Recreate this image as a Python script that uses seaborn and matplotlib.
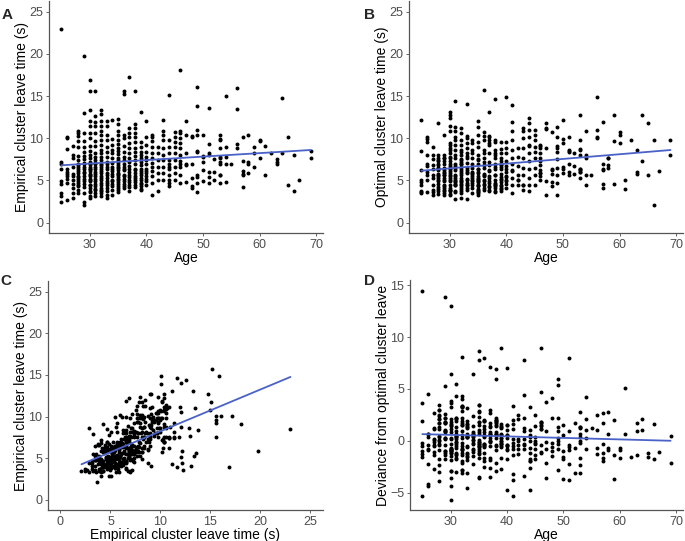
import numpy as np
import pandas as pd
import matplotlib
matplotlib.use("Agg")
import matplotlib.pyplot as plt
import seaborn as sns

age = [
    25, 25, 25, 25, 25, 25, 25, 25, 25,
    26, 26, 26, 26, 26, 26, 26, 26, 26, 26,
    27, 27, 27, 27, 27, 27, 27, 27, 27, 27, 27,
    28, 28, 28, 28, 28, 28, 28, 28, 28, 28, 28, 28, 28, 28, 28, 28, 28, 28, 28, 28, 28, 28,
    29, 29, 29, 29, 29, 29, 29, 29, 29, 29, 29, 29, 29, 29, 29, 29, 29, 29, 29, 29, 29, 29,
    30, 30, 30, 30, 30, 30, 30, 30, 30, 30, 30, 30, 30, 30, 30, 30, 30, 30, 30, 30, 30, 30, 30, 30, 30,
    30, 30, 30, 30, 30, 30,
    31, 31, 31, 31, 31, 31, 31, 31, 31, 31, 31, 31, 31, 31, 31, 31, 31, 31, 31, 31, 31, 31, 31, 31, 31,
    32, 32, 32, 32, 32, 32, 32, 32, 32, 32, 32, 32, 32, 32, 32, 32, 32, 32, 32, 32, 32, 32, 32,
    32, 32, 32, 32, 32,
    33, 33, 33, 33, 33, 33, 33, 33, 33, 33, 33, 33, 33, 33, 33, 33, 33, 33, 33, 33, 33,
    34, 34, 34, 34, 34, 34, 34, 34, 34, 34, 34, 34, 34, 34, 34, 34, 34, 34,
    35, 35, 35, 35, 35, 35, 35, 35, 35, 35, 35, 35, 35, 35, 35, 35, 35, 35, 35, 35, 35, 35, 35,
    35, 35, 35, 35, 35,
    36, 36, 36, 36, 36, 36, 36, 36, 36, 36, 36, 36, 36, 36, 36, 36, 36, 36, 36,
    37, 37, 37, 37, 37, 37, 37, 37, 37, 37, 37, 37, 37, 37, 37, 37, 37, 37, 37,
    38, 38, 38, 38, 38, 38, 38, 38, 38, 38, 38, 38, 38, 38, 38, 38, 38, 38, 38, 38,
    39, 39, 39, 39, 39, 39, 39, 39, 39, 39, 39, 39, 39, 39, 39, 39, 39, 39, 39,
    40, 40, 40, 40, 40, 40, 40, 40, 40, 40, 40, 40, 40, 40,
    41, 41, 41, 41, 41, 41, 41, 41, 41, 41, 41, 41,
    42, 42, 42, 42, 42, 42, 42,
    43, 43, 43, 43, 43, 43, 43, 43, 43, 43,
    44, 44, 44, 44, 44, 44, 44, 44, 44, 44, 44, 44,
    45, 45, 45, 45, 45, 45, 45, 45, 45,
    46, 46, 46, 46, 46, 46, 46, 46, 46, 46, 46, 46,
    47, 47, 47, 47, 47, 47,
    48, 48, 48, 48, 48, 48,
    49, 49, 49, 49, 49, 49, 49, 49, 49, 49,
    50, 50, 50, 50, 50, 50,
    51, 51, 51, 51, 51, 51, 51,
    52, 52, 52,
    53, 53, 53, 53, 53, 53, 53, 53, 53, 53, 53,
    54, 54, 54, 54, 54,
    55,
    56, 56, 56, 56,
    57, 57, 57, 57, 57, 57,
    58, 58, 58, 58,
    59, 59, 59,
    60, 60, 60,
    61, 61,
    62,
    63, 63, 63,
    64, 64,
    65, 65,
    66, 66,
    67,
    69, 69,
]

empirical = [
    23.0, 7.2, 6.9, 6.4, 4.9, 4.6, 3.5, 3.2, 2.5,
    10.2, 10.0, 8.7, 6.3, 5.8, 5.2, 4.7, 2.7, 6.0, 5.5,
    9.1, 8.0, 7.7, 5.8, 5.5, 5.1, 4.6, 4.1, 3.5, 2.9, 6.6,
    10.9, 10.6, 10.3, 9.7, 9.0, 7.9, 7.4, 6.9, 6.6, 6.3, 5.9, 5.5, 5.2, 4.7, 4.3, 3.9, 3.5,
    6.1, 5.4, 4.9, 4.5, 6.8,
    19.8, 13.0, 10.6, 9.7, 9.0, 7.9, 7.5, 7.1, 6.6, 5.9, 5.5, 4.9, 3.5, 2.5, 2.1, 6.3, 8.4,
    6.0, 5.2, 4.6, 4.2, 6.9,
    16.9, 15.6, 13.3, 12.1, 11.4, 10.6, 10.0, 9.1, 8.5, 8.0, 7.6, 7.2, 6.9, 6.6, 6.3, 6.1, 5.8, 5.5, 5.2, 4.9, 4.5, 4.1, 3.8, 3.2, 2.9,
    6.4, 5.6, 5.0, 4.4, 3.6, 7.0,
    15.6, 12.6, 11.9, 11.4, 10.6, 9.7, 9.1, 8.3, 7.8, 7.4, 6.9, 6.6, 6.3, 5.8, 5.5, 4.9, 4.3, 3.9, 3.5, 3.2,
    6.0, 5.2, 4.6, 7.1, 4.0,
    13.4, 12.9, 12.1, 11.4, 10.9, 10.4, 9.8, 9.2, 8.6, 8.2, 7.8, 7.4, 7.0, 6.6, 6.3, 5.9, 5.5, 5.1, 4.7, 4.1, 3.8, 3.5, 3.2,
    6.1, 5.3, 4.4, 6.8, 3.9,
    12.1, 11.4, 10.4, 9.8, 9.0, 8.4, 7.8, 7.2, 6.6, 6.3, 5.9, 5.3, 4.7, 4.1, 3.8, 3.3, 2.9,
    5.6, 4.9, 4.4, 6.9,
    12.2, 9.9, 9.2, 8.6, 8.2, 7.7, 7.1, 6.6, 6.1, 5.5, 4.9, 4.3, 3.9, 3.3,
    5.8, 5.1, 4.6, 6.4,
    12.3, 11.7, 10.9, 10.4, 9.8, 9.3, 8.9, 8.5, 8.1, 7.7, 7.4, 7.1, 6.8, 6.5, 6.2, 5.9, 5.6, 5.2, 5.0, 4.6, 4.3, 3.9, 3.6,
    5.4, 4.8, 4.1, 6.6, 5.8,
    15.6, 15.2, 10.4, 10.0, 9.1, 8.4, 7.8, 7.4, 6.9, 6.6, 6.2, 5.7, 5.2, 4.6, 4.1,
    5.5, 4.9, 4.3, 6.4,
    17.2, 11.2, 10.6, 10.2, 9.4, 8.8, 8.2, 7.7, 7.2, 6.7, 6.3, 5.7, 5.1, 4.5, 3.8,
    5.4, 4.8, 6.0, 4.2,
    15.6, 11.7, 11.2, 10.6, 10.1, 9.5, 8.9, 8.4, 7.9, 7.4, 6.9, 6.4, 5.9, 5.5, 5.0, 4.5,
    5.3, 4.8, 6.2, 4.2,
    13.1, 9.6, 9.0, 8.4, 8.0, 7.6, 7.2, 6.8, 6.4, 6.1, 5.7, 5.3, 4.7, 4.3, 3.9,
    5.1, 4.6, 5.9, 4.0,
    12.1, 10.1, 9.2, 8.4, 7.8, 7.4, 6.9, 6.4, 5.9, 5.5, 4.9,
    5.2, 4.4, 6.1,
    10.4, 10.1, 9.7, 9.0, 8.2, 7.6, 7.1, 6.6, 6.1, 5.5, 4.7, 3.3,
    9.0, 8.2, 7.4, 6.6, 5.9, 5.1, 3.7,
    12.2, 10.9, 10.4, 9.8, 8.8, 8.0, 7.4, 6.6, 5.9, 5.1,
    15.1, 9.8, 9.0, 8.2, 7.4, 7.0, 6.6, 6.3, 5.7, 5.1, 4.7, 4.3,
    10.7, 10.2, 9.6, 9.0, 8.2, 7.4, 6.6, 5.9, 5.1,
    18.1, 10.9, 10.6, 10.0, 9.4, 8.8, 8.0, 7.0, 6.6, 5.7, 4.7, 7.3,
    12.0, 10.4, 8.2, 7.0, 6.8, 4.8,
    10.3, 10.1, 7.0, 5.3, 4.3, 4.1,
    16.1, 13.8, 11.0, 10.4, 8.5, 8.4, 5.7, 5.4, 4.7, 3.6,
    10.4, 7.9, 7.8, 7.2, 6.2, 4.9,
    13.6, 9.3, 8.2, 8.0, 6.0, 5.4, 4.7,
    7.5, 6.0, 5.1,
    10.4, 9.9, 9.8, 8.8, 7.8, 7.7, 7.2, 6.9, 5.7, 5.6, 4.7,
    15.0, 9.0, 7.8, 6.9, 4.8,
    6.9,
    15.9, 13.5, 9.3, 8.8,
    10.2, 7.3, 6.1, 5.8, 5.7, 4.2,
    10.4, 7.2, 7.0, 5.9,
    9.0, 8.3, 6.6,
    9.8, 9.7, 7.7,
    9.1, 5.7,
    8.2,
    7.5, 7.2, 6.9,
    14.8, 8.3,
    10.2, 4.5,
    8.0, 3.7,
    5.0,
    8.5, 7.7,
]

optimal = [
    8.5, 3.6, 12.2, 4.5, 5.1, 6.2, 4.8, 3.7, 3.5,
    5.7, 9.6, 8.0, 6.7, 5.1, 6.0, 6.9, 3.6, 10.2, 9.9,
    9.0, 5.3, 7.5, 6.3, 4.4, 3.9, 5.7, 6.8, 3.6, 3.3, 8.0,
    7.4, 7.6, 7.3, 8.0, 6.5, 11.8, 5.0, 5.8, 6.2, 4.2, 6.8, 3.8, 5.6, 7.0, 4.6, 3.4, 6.5,
    4.0, 5.3, 4.9, 6.3, 5.5,
    5.9, 7.7, 10.4, 8.0, 7.3, 6.9, 5.7, 4.9, 7.6, 3.3, 6.5, 4.1, 5.3, 3.7, 3.5, 4.5, 6.2,
    5.1, 5.6, 4.3, 3.9, 6.0,
    3.9, 9.2, 13.1, 8.8, 7.6, 11.4, 10.8, 12.7, 9.4, 12.4, 6.1, 8.2, 5.3, 6.9, 4.5, 7.3, 3.7, 6.5, 4.9, 7.8, 5.7, 3.3, 6.7, 4.1, 8.6,
    5.0, 6.3, 3.9, 5.9, 5.5, 3.4,
    10.1, 14.4, 7.6, 9.2, 10.9, 9.8, 8.6, 11.3, 6.5, 5.5, 7.0, 4.4, 8.0, 4.9, 6.2, 2.8, 5.7, 3.7, 4.8, 4.4,
    5.3, 4.6, 5.1, 6.7, 3.6,
    5.3, 8.6, 10.6, 7.4, 7.5, 7.0, 9.2, 11.2, 6.9, 4.9, 8.0, 5.9, 9.8, 3.7, 8.4, 5.0, 6.3, 2.9, 4.4, 7.2, 6.6, 4.0, 4.6,
    4.2, 6.1, 5.6, 3.5, 4.8,
    14.0, 8.2, 8.8, 9.4, 7.6, 10.0, 5.9, 10.3, 7.1, 4.7, 6.5, 4.1, 6.0, 2.8, 5.0, 7.9, 4.4,
    5.2, 4.5, 3.9, 6.2,
    5.8, 9.8, 9.4, 8.2, 7.6, 5.3, 8.6, 6.5, 7.0, 4.1, 6.0, 3.5, 4.7, 5.5,
    5.1, 4.4, 4.9, 5.9,
    3.6, 3.9, 7.4, 6.9, 10.4, 9.6, 9.0, 12.0, 8.0, 11.3, 4.5, 6.4, 5.0, 7.5, 4.4, 6.0, 3.3, 5.5, 4.0, 6.3, 3.5, 5.2, 4.8,
    5.9, 5.3, 4.9, 3.8, 4.3,
    7.6, 15.7, 10.7, 8.6, 10.3, 6.5, 9.8, 5.5, 7.2, 4.6, 6.8, 8.2, 4.1, 5.0, 5.8,
    4.9, 4.4, 3.9, 5.6,
    10.1, 13.1, 9.8, 7.2, 9.4, 6.1, 8.2, 10.3, 5.5, 6.8, 4.9, 9.2, 3.8, 6.2, 4.3,
    4.7, 4.2, 5.3, 3.9,
    9.6, 14.6, 4.3, 8.6, 9.8, 8.0, 6.9, 7.6, 5.7, 8.3, 5.1, 4.5, 6.3, 3.8, 3.6, 6.6,
    4.6, 4.1, 5.6, 4.7,
    4.1, 9.6, 7.7, 8.7, 6.8, 8.2, 5.8, 7.3, 4.8, 6.3, 5.4, 7.0, 5.0, 4.3, 6.6,
    4.5, 4.0, 5.2, 3.7,
    5.1, 14.9, 9.6, 8.8, 6.3, 8.2, 5.4, 7.3, 4.9, 6.0, 6.7,
    4.6, 4.1, 5.5,
    7.0, 13.9, 8.6, 9.8, 6.2, 10.8, 7.6, 11.9, 4.5, 5.3, 6.1, 3.5,
    8.8, 5.7, 7.8, 4.5, 6.7, 5.1, 5.0,
    4.4, 11.2, 10.8, 7.6, 4.4, 8.8, 6.5, 10.0, 5.7, 3.9,
    11.8, 12.4, 11.0, 10.2, 9.2, 8.2, 7.3, 6.3, 5.3, 4.5, 3.7, 9.1,
    11.0, 9.8, 10.4, 9.0, 5.7, 7.6, 8.4, 4.5, 6.5,
    9.1, 6.2, 8.8, 8.2, 7.7, 7.3, 9.2, 5.9, 5.5, 6.8, 5.1, 5.9,
    11.1, 11.2, 11.8, 3.3, 8.9, 4.9,
    6.2, 10.7, 4.8, 6.3, 5.8, 4.3,
    10.1, 8.4, 8.8, 9.1, 11.3, 7.5, 6.5, 5.7, 4.7, 3.3,
    12.2, 6.4, 9.4, 6.6, 9.9, 5.9,
    5.6, 8.4, 8.6, 10.2, 6.9, 6.0, 8.5,
    5.8, 6.7, 8.2,
    12.7, 8.6, 9.8, 6.0, 8.0, 6.4, 6.0, 6.2, 5.3, 8.7, 6.4,
    10.8, 8.0, 5.7, 7.7, 4.5,
    5.7,
    14.9, 11.0, 10.0, 10.1,
    11.9, 4.6, 6.4, 4.1, 6.9, 6.2,
    7.6, 6.5, 7.7, 6.8,
    12.7, 9.7, 4.6,
    10.7, 10.4, 9.4,
    4.0, 5.0,
    9.8,
    5.8, 8.6, 6.0,
    12.7, 7.3,
    11.8, 5.7,
    9.8, 2.1,
    6.1,
    8.0, 9.8,
]

df = pd.DataFrame({"age": age, "empirical": empirical, "optimal": optimal})
df["deviance"] = df["empirical"] - df["optimal"]

sns.set_theme(style="white")
plt.rcParams["font.family"] = ["Liberation Sans", "DejaVu Sans"]

dot_kws = {"s": 8, "color": "black", "linewidths": 0, "alpha": 1}
fit_kws = {"color": "#4a62c8", "linewidth": 1.3}

fig = plt.figure(figsize=(6.85, 5.41), dpi=100)

# panel rectangles in figure fractions
ax_a = fig.add_axes([0.0715, 0.569, 0.400, 0.429])
ax_b = fig.add_axes([0.597, 0.569, 0.400, 0.429])
ax_c = fig.add_axes([0.070, 0.057, 0.4015, 0.423])
ax_d = fig.add_axes([0.5985, 0.057, 0.3985, 0.425])

panels = [
    (ax_a, "age", "empirical", "Age", "Empirical cluster leave time (s)"),
    (ax_b, "age", "optimal", "Age", "Optimal cluster leave time (s)"),
    (ax_c, "empirical", "optimal", "Empirical cluster leave time (s)", "Empirical cluster leave time (s)"),
    (ax_d, "age", "deviance", "Age", "Deviance from optimal cluster leave"),
]

for ax, xcol, ycol, xlab, ylab in panels:
    sns.regplot(data=df, x=xcol, y=ycol, ax=ax, ci=None, truncate=True,
                scatter_kws=dot_kws, line_kws=fit_kws)
    ax.set_xlabel(xlab, fontsize=10, color="black", labelpad=0)
    ax.set_ylabel(ylab, fontsize=10, color="black", labelpad=0)
    ax.tick_params(axis="both", labelsize=9, colors="#4d4d4d", length=2.5, width=0.6,
                   direction="out", left=True, bottom=True, pad=1.5)
    for side in ["top", "right"]:
        ax.spines[side].set_visible(False)
    for side in ["left", "bottom"]:
        ax.spines[side].set_color("#555555")
        ax.spines[side].set_linewidth(0.9)
    ax.grid(False)

for ax in [ax_a, ax_b, ax_d]:
    ax.set_xlim(22.8, 71.2)
    ax.set_xticks([30, 40, 50, 60, 70])
for ax in [ax_a, ax_b, ax_c]:
    ax.set_ylim(-1.25, 26.25)
    ax.set_yticks([0, 5, 10, 15, 20, 25])
ax_c.set_xlim(-1.25, 26.25)
ax_c.set_xticks([0, 5, 10, 15, 20, 25])
ax_d.set_ylim(-6.7, 15.5)
ax_d.set_yticks([-5, 0, 5, 10, 15])

# panel letters
fig.text(0.002, 0.985, "A", fontsize=11, fontweight="bold", va="top", ha="left")
fig.text(0.532, 0.985, "B", fontsize=11, fontweight="bold", va="top", ha="left")
fig.text(0.0, 0.493, "C", fontsize=11, fontweight="bold", va="top", ha="left")
fig.text(0.532, 0.493, "D", fontsize=11, fontweight="bold", va="top", ha="left")

fig.savefig("out.png", dpi=100)
